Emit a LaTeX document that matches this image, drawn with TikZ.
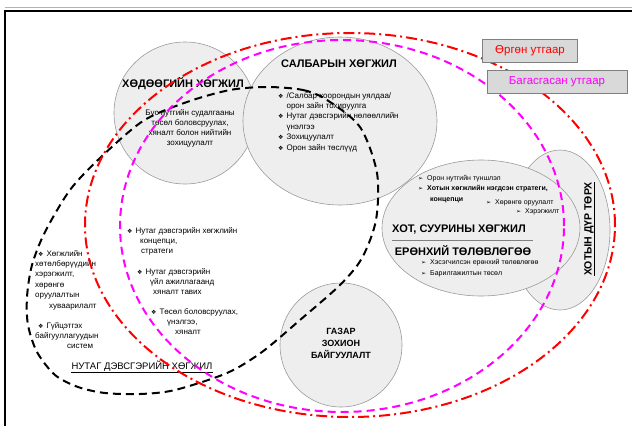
\documentclass[tikz,border=0pt]{standalone}
\usepackage{fontspec}
\setmainfont{Liberation Sans}
\newfontfamily\dejavu{DejaVu Sans}
\usepackage{xcolor}
\definecolor{areaFill}{HTML}{EEEEEE}
\definecolor{areaBorder}{HTML}{9A9A9A}
\definecolor{legendFill}{HTML}{D9D9D9}
\definecolor{legendBorder}{HTML}{808080}
\definecolor{wideRed}{HTML}{FF0000}
\definecolor{narrowPink}{HTML}{FF00FF}
\usepackage{tikz}
\usetikzlibrary{shapes.geometric,positioning}
\newcommand{\dmd}{{\dejavu\fontsize{6}{6}\selectfont ❖}\hspace{3pt}}
\newcommand{\arr}{{\dejavu\fontsize{6}{6}\selectfont ➢}\hspace{4pt}}
\newcommand{\ind}{\hphantom{\dmd}}
\tikzset{
    area/.style={
        draw=areaBorder,
        fill=areaFill,
        ellipse,
        inner sep=0pt,
        line width=0.6pt
    },
    heading/.style={
        font=\bfseries\fontsize{11}{12}\selectfont,
        inner sep=0pt
    },
    body/.style={
        font=\fontsize{8}{10.4}\selectfont,
        align=left,
        anchor=north west,
        inner sep=0pt
    },
    bodyc/.style={
        font=\fontsize{8}{10}\selectfont,
        align=center,
        inner sep=0pt
    },
    small/.style={
        font=\fontsize{7}{9}\selectfont,
        anchor=west,
        inner sep=0pt
    },
    legendbox/.style={
        draw=legendBorder,
        fill=legendFill,
        line width=0.8pt,
        minimum height=23pt,
        inner sep=2pt,
        font=\fontsize{11.5}{12}\selectfont
    },
    wide/.style={
        draw=wideRed,
        line width=2pt,
        dash pattern=on 11pt off 4pt on 2pt off 4pt
    },
    narrow/.style={
        draw=narrowPink,
        line width=2pt,
        dash pattern=on 8pt off 5pt
    },
    territory/.style={
        draw=black,
        line width=2pt,
        dash pattern=on 8pt off 5pt
    }
}

\begin{document}
\begin{tikzpicture}[x=1pt, y=-1pt]
    \useasboundingbox (0,0) rectangle (632,426);
    % frame
    \draw[gray!60, line width=0.6pt] (5,7) -- (632,7);
    \draw[black, line width=1.4pt] (5,426) -- (5,11) -- (632,11);

    % areas
    \node[area, minimum width=142pt, minimum height=142pt] (hodoo) at (185,113) {};
    \node[area, minimum width=194pt, minimum height=168pt] (salbar) at (340,121) {};
    \node[area, minimum width=100pt, minimum height=160pt] (durtorh) at (560,230) {};
    \node[area, minimum width=198pt, minimum height=136pt] (hot) at (481,228) {};
    \node[area, minimum width=122pt, minimum height=124pt] (gazar) at (341,345) {};

    % rural development
    \node[heading] (hodooTitle) at (183,84) {ХӨДӨӨГИЙН ХӨГЖИЛ};
    \node[bodyc] (hodooText) at (190,128) {Бүс нутгийн судалгааны\\төсөл боловсруулах,\\хяналт болон нийтийн\\зохицуулалт};

    % sector development
    \node[heading] (salbarTitle) at (339,64) {САЛБАРЫН ХӨГЖИЛ};
    \node[body] (salbarText) at (278,92) {\dmd/Салбар хоорондын уялдаа/\\\ind орон зайн тохируулга\\\dmd Нутаг дэвсгэрийн нөлөөллийн\\\ind үнэлгээ\\\dmd Зохицуулалт\\\dmd Орон зайн төслүүд};

    % town development
    \node[small] (hot1) at (418,179) {\arr Орон нутгийн түншлэл};
    \node[small, font=\bfseries\fontsize{7}{9}\selectfont] (hot2) at (418,189) {\arr Хотын хөгжлийн нэгдсэн стратеги,};
    \node[small, font=\bfseries\fontsize{7}{9}\selectfont] (hot3) at (430,200) {концепци};
    \node[small] (hot4) at (486,203) {\arr Хөрөнгө оруулалт};
    \node[small] (hot5) at (516,212) {\arr Хэрэгжилт};
    \node[heading] (hotTitle) at (459,230) {ХОТ, СУУРИНЫ ХӨГЖИЛ};
    \node[heading] (eronhii) at (463,251) {ЕРӨНХИЙ ТӨЛӨВЛӨГӨӨ};
    \draw[gray, line width=0.6pt] (392,240) -- (533,240);
    \node[small] (hot6) at (421,263) {\arr Хэсэгчилсэн ерөнхий төлөвлөгөө};
    \node[small] (hot7) at (421,274) {\arr Барилгажилтын төсөл};

    % townscape
    \node[heading, font=\bfseries\fontsize{10.5}{12}\selectfont, rotate=90] (durTitle) at (589,229) {ХОТЫН ДҮР ТӨРХ};
    \draw[line width=0.6pt] (durTitle.south west) -- (durTitle.south east);

    % land management
    \node[heading, font=\bfseries\fontsize{9}{12}\selectfont, align=center] (gazarTitle) at (341,343) {ГАЗАР\\ЗОХИОН\\БАЙГУУЛАЛТ};

    % territorial development
    \node[body] (left1) at (35,250) {\hspace{3pt}\dmd Хөгжлийн\\хөтөлбөрүүдийн\\хэрэгжилт,\\хөрөнгө\\оруулалтын\\\hspace{14pt}хуваарилалт};
    \node[body] (left2) at (35,322) {\hspace{3pt}\dmd Гүйцэтгэх\\байгууллагуудын\\\hspace{32pt}систем};
    \node[body] (mid1) at (127,227) {\dmd Нутаг дэвсгэрийн хөгжлийн\\\hspace{13pt}концепци,\\\hspace{14pt}стратеги};
    \node[body] (mid2) at (137,268) {\dmd Нутаг дэвсгэрийн\\\hspace{13pt}үйл ажиллагаанд\\\hspace{16pt}хяналт тавих};
    \node[body] (mid3) at (151,308) {\dmd Төсөл боловсруулах,\\\hspace{16pt}үнэлгээ,\\\hspace{24pt}хяналт};
    \node[font=\fontsize{9.5}{11}\selectfont, inner sep=0pt] (nutagTitle) at (142,366) {НУТАГ ДЭВСГЭРИЙН ХӨГЖИЛ};
    \draw[line width=0.6pt] ([yshift=-1pt]nutagTitle.south west) -- ([yshift=-1pt]nutagTitle.south east);

    % scope outlines
    \draw[territory] plot[smooth cycle] coordinates {
        (267,87) (303,90) (327,100) (360,127) (377,173) (376,220) (362,258)
        (340,285) (300,320) (262,352) (227,373) (175,390) (140,394) (105,393)
        (78,387) (55,375) (37,352) (28,325) (27,297) (32,265) (45,232)
        (70,190) (100,158) (143,121) (187,102) (230,90)};
    \draw[narrow] (342,226) ellipse [x radius=222pt, y radius=186pt];
    \draw[wide] (350,225) ellipse [x radius=265pt, y radius=192pt];

    % legend
    \node[legendbox, text=wideRed, minimum width=95pt] (wideKey) at (530,50.5) {Өргөн утгаар};
    \node[legendbox, text=narrowPink, minimum width=140pt] (narrowKey) at (557,81.5) {Багасгасан утгаар};
\end{tikzpicture}
\end{document}
